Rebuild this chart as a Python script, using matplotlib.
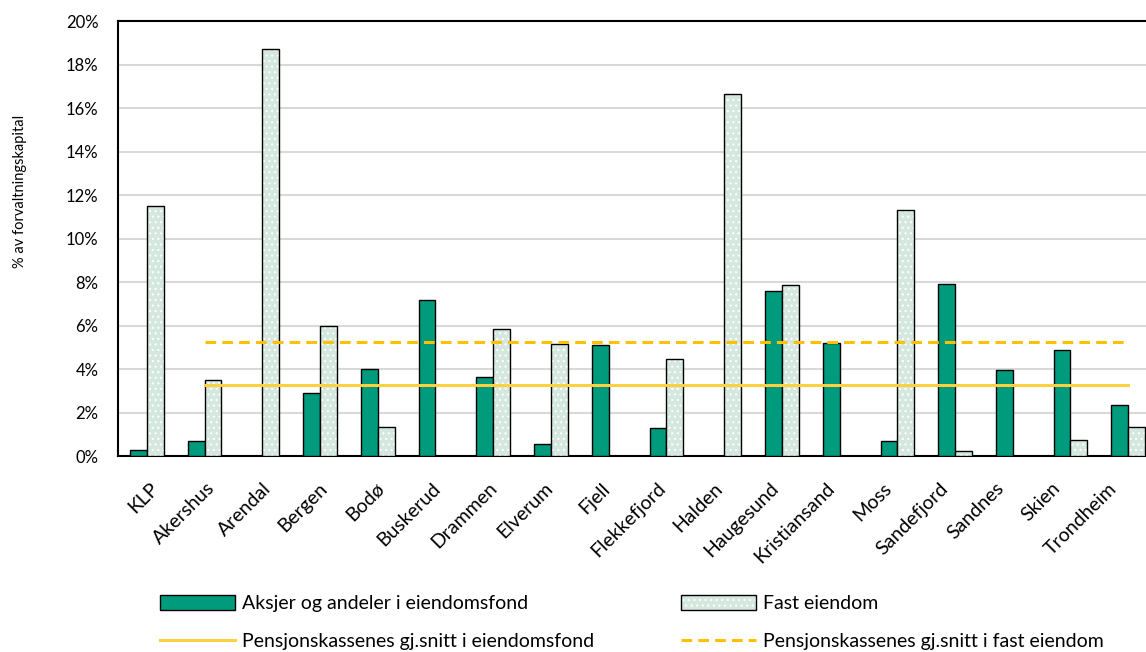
import numpy as np
import matplotlib.pyplot as plt
from matplotlib.patches import Patch
from matplotlib.lines import Line2D
from matplotlib.legend_handler import HandlerTuple
from matplotlib.ticker import FuncFormatter

plt.rcParams['font.family'] = ['Lato', 'DejaVu Sans']
plt.rcParams['hatch.linewidth'] = 0.8

kasser = ["KLP", "Akershus", "Arendal", "Bergen", "Bodø", "Buskerud", "Drammen",
          "Elverum", "Fjell", "Flekkefjord", "Halden", "Haugesund", "Kristiansand",
          "Moss", "Sandefjord", "Sandnes", "Skien", "Trondheim"]
eiendomsfond = [0.27, 0.69, 0.0, 2.9, 4.0, 7.17, 3.63, 0.55, 5.1, 1.29, 0.02, 7.6,
                5.22, 0.69, 7.9, 3.95, 4.87, 2.36]
fast_eiendom = [11.5, 3.49, 18.7, 5.98, 1.33, 0.0, 5.84, 5.15, 0.0, 4.46, 16.64, 7.86,
                0.0, 11.3, 0.23, 0.0, 0.74, 1.35]
snitt_fond = 3.26
snitt_fast = 5.24

GREEN = "#009b7d"
LIGHT = "#d4e8df"

fig = plt.figure(figsize=(11.46, 6.52), dpi=100)
ax = fig.add_axes([0.103, 0.3006, 0.9066, 0.667])

x = np.arange(len(kasser))
w = 0.29
ax.bar(x - w / 2, eiendomsfond, w, color=GREEN, edgecolor="black", linewidth=1.0, zorder=3)
# dotted fill first, then a plain black outline on top
ax.bar(x + w / 2, fast_eiendom, w, color=LIGHT, edgecolor="white", hatch="...",
       linewidth=0, zorder=3)
ax.bar(x + w / 2, fast_eiendom, w, fill=False, edgecolor="black", linewidth=1.0, zorder=4)

xs = x[1:]
ax.plot(xs, [snitt_fond] * len(xs), color="#ffd040", linewidth=2.2, zorder=5)
ax.plot(xs, [snitt_fast] * len(xs), color="#ffc000", linewidth=2.2,
        linestyle=(0, (3.5, 2)), zorder=5)

ax.set_xlim(-0.5, len(kasser) - 0.5)
ax.set_ylim(0, 20)
ax.set_yticks(np.arange(0, 21, 2))
ax.yaxis.set_major_formatter(FuncFormatter(lambda v, p: f"{v:.0f}%"))
ax.grid(axis="y", color="#d9d9d9", linewidth=1.5, zorder=0)
ax.set_axisbelow(True)
ax.tick_params(axis="both", length=0, labelsize=12)
ax.tick_params(axis="y", pad=14)

# category labels sit slightly left of the bar groups, drifting across the axis
ax.set_xticks(x + 0.05 - 0.0235 * x)
ax.set_xticklabels(kasser, rotation=45, ha="right", va="top",
                   rotation_mode="anchor", fontsize=14)
ax.tick_params(axis="x", pad=17)
for s in ["left", "bottom", "top"]:
    ax.spines[s].set_linewidth(1.5)
ax.spines["right"].set_visible(False)
ax.set_ylabel("% av forvaltningskapital", fontsize=10.5)
ax.yaxis.set_label_coords(-0.088, 0.609)

h_fond = Patch(facecolor=GREEN, edgecolor="black", linewidth=1.0)
h_fast = (Patch(facecolor=LIGHT, edgecolor="white", hatch="...", linewidth=0),
          Patch(fill=False, edgecolor="black", linewidth=1.0))
h_snitt1 = Line2D([], [], color="#ffd040", linewidth=2.2)
h_snitt2 = Line2D([], [], color="#ffc000", linewidth=2.2, linestyle=(0, (3.5, 2)))
fig.legend([h_fond, h_snitt1, h_fast, h_snitt2],
           ["Aksjer og andeler i eiendomsfond", "Pensjonskassenes gj.snitt i eiendomsfond",
            "Fast eiendom", "Pensjonskassenes gj.snitt i fast eiendom"],
           handler_map={tuple: HandlerTuple(ndivide=1, pad=0)},
           ncol=2, loc="upper left", bbox_to_anchor=(0.1396, 0.087),
           bbox_transform=fig.transFigure, frameon=False, fontsize=14,
           handlelength=3.85, handleheight=0.75, handletextpad=0.36,
           columnspacing=4.5, labelspacing=1.05, borderaxespad=0, borderpad=0)

fig.savefig("out.png", dpi=100)
